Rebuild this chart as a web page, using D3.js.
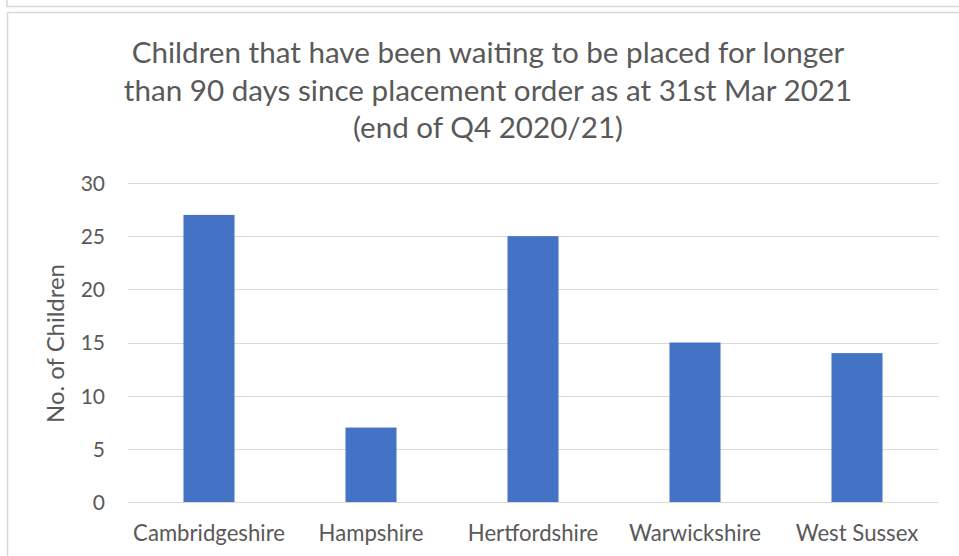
<!DOCTYPE html>
<html>
<head>
<meta charset="utf-8">
<script src="https://cdn.jsdelivr.net/npm/d3@7/dist/d3.min.js"></script>
<style>
  html, body { margin: 0; padding: 0; background: #fff; }
  svg { display: block; }
  text { font-family: Lato, "Open Sans", sans-serif; fill: #595959; }
</style>
</head>
<body>
<svg id="chart" width="959" height="556"></svg>
<script>
const categories = ["Cambridgeshire", "Hampshire", "Hertfordshire", "Warwickshire", "West Sussex"];
const values = [27, 7, 25, 15, 14];
const yTicks = [0, 5, 10, 15, 20, 25, 30];
const titleLines = [
  "Children that have been waiting to be placed for longer",
  "than 90 days since placement order as at 31st Mar 2021",
  "(end of Q4 2020/21)"
];
const yLabel = "No. of Children";

const svg = d3.select("#chart");
const W = 959, H = 556;
const plot = { left: 128, right: 938, top: 183, bottom: 502 };

// Frames (chart container borders)
svg.append("path")
  .attr("d", `M7,0 V6.5 H${W}`)
  .attr("fill", "none").attr("stroke", "#d9d9d9").attr("stroke-width", 1.5);
svg.append("path")
  .attr("d", `M${W},12.5 H7.5 V${H}`)
  .attr("fill", "none").attr("stroke", "#d9d9d9").attr("stroke-width", 1.5);

const x = d3.scaleBand().domain(categories).range([plot.left, plot.right]).paddingInner(0.685).paddingOuter(0.3425);
const y = d3.scaleLinear().domain([0, 30]).range([plot.bottom, plot.top]);

function fitSize(sel, target, start) {
  sel.style("font-size", start + "px");
  const w = sel.node().getComputedTextLength();
  return start * target / w;
}

// Gridlines
svg.append("g").selectAll("line").data(yTicks).join("line")
  .attr("x1", plot.left).attr("x2", plot.right)
  .attr("y1", d => Math.round(y(d)) + 0.5).attr("y2", d => Math.round(y(d)) + 0.5)
  .attr("stroke", "#d9d9d9").attr("stroke-width", 1.2);

// Bars
svg.append("g").selectAll("rect").data(values).join("rect")
  .attr("x", (d, i) => x(categories[i]))
  .attr("width", x.bandwidth())
  .attr("y", d => y(d))
  .attr("height", d => y(0) - y(d))
  .attr("fill", "#4472C4");

// Y axis ticks
const yAxis = d3.axisLeft(y).tickValues(yTicks).tickSize(0).tickPadding(0);
const gy = svg.append("g").attr("transform", `translate(105,0)`).call(yAxis);
gy.select(".domain").remove();
gy.selectAll("text").style("font-family", "Lato, sans-serif").style("fill", "#595959")
  .style("font-size", "21px").attr("dy", "0.35em");

// X axis labels
const xAxis = d3.axisBottom(x).tickSize(0).tickPadding(0);
const gx = svg.append("g").attr("transform", `translate(0,${plot.bottom})`).call(xAxis);
gx.select(".domain").remove();
gx.selectAll("text").style("font-family", "Lato, sans-serif").style("fill", "#595959")
  .attr("dy", 0).attr("y", 39);
const tc = gx.selectAll("text").filter(d => d === "Cambridgeshire");
const catSize = fitSize(tc, 152, 19);
gx.selectAll("text").style("font-size", catSize + "px");

// Y label
const yl = svg.append("text")
  .attr("transform", `translate(64,${(plot.top + plot.bottom) / 2 + 1}) rotate(-90)`)
  .attr("text-anchor", "middle")
  .text(yLabel);
yl.style("font-size", fitSize(yl, 159, 21) + "px");

// Title
const cx = 488;
const titleBaselines = [63, 100.5, 138];
const tl = svg.append("g").selectAll("text").data(titleLines).join("text")
  .attr("x", cx).attr("y", (d, i) => titleBaselines[i])
  .attr("text-anchor", "middle")
  .text(d => d);
const first = tl.filter((d, i) => i === 0);
const titleSize = fitSize(first, 713, 25);
tl.style("font-size", titleSize + "px");
</script>
</body>
</html>
